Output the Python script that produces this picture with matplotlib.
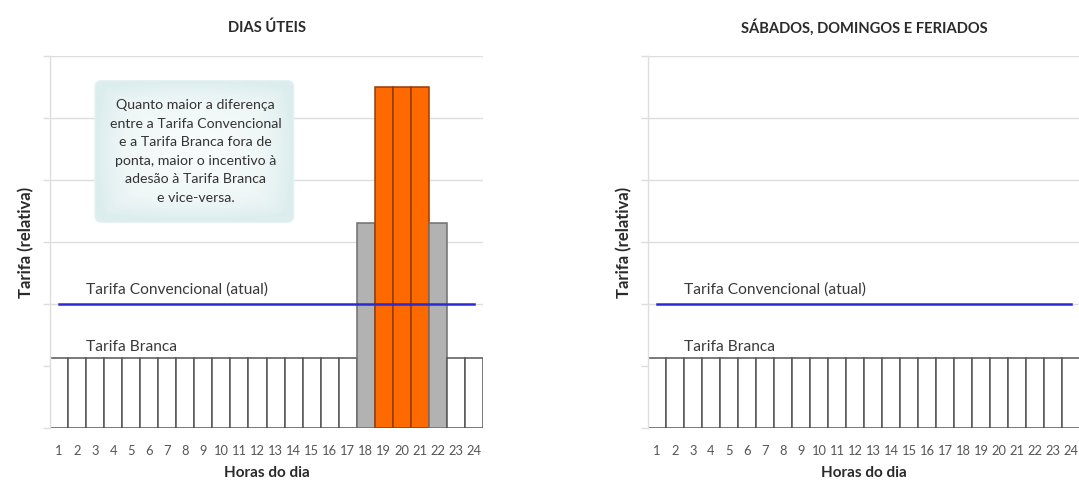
import matplotlib
matplotlib.use("Agg")
import matplotlib.pyplot as plt
import numpy as np
from matplotlib.patches import FancyBboxPatch
from matplotlib.colors import LinearSegmentedColormap

plt.rcParams['font.family'] = ['Lato', 'DejaVu Sans']

# Hours of the day and relative tariffs
hours = list(range(1, 25))
branca_weekday = [1.13] * 17 + [3.3] + [5.5] * 3 + [3.3] + [1.13] * 2
branca_weekend = [1.13] * 24
convencional = [2.0] * 24

# Bar colours per tariff band (fora de ponta / intermediário / ponta)
band_weekday = ['fora'] * 17 + ['inter'] + ['ponta'] * 3 + ['inter'] + ['fora'] * 2
band_weekend = ['fora'] * 24
face = {'fora': 'white', 'inter': '#b2b2b2', 'ponta': '#ff6a00'}
edge = {'fora': '#555555', 'inter': '#6f6f6f', 'ponta': '#9a3a05'}

titles = ['DIAS ÚTEIS', 'SÁBADOS, DOMINGOS E FERIADOS']
label_conv = 'Tarifa Convencional (atual)'
label_branca = 'Tarifa Branca'
note = ('Quanto maior a diferença\nentre a Tarifa Convencional\ne a Tarifa Branca fora de\n'
        'ponta, maior o incentivo à\nadesão à Tarifa Branca\ne vice-versa.')

W, H = 1079, 480
fig = plt.figure(figsize=(W / 100, H / 100), dpi=100)
fig.patch.set_facecolor('white')

def px_axes(x0, x1, y0, y1):
    return fig.add_axes([x0 / W, 1 - y1 / H, (x1 - x0) / W, (y1 - y0) / H])

ax_left = px_axes(50, 483, 56, 428)
ax_right = px_axes(648, 1080, 56, 428)

grid_c = '#dedede'
text_c = '#3a3a3a'

for ax, vals, bands, title in [(ax_left, branca_weekday, band_weekday, titles[0]),
                               (ax_right, branca_weekend, band_weekend, titles[1])]:
    ax.set_xlim(0.5, 24.5)
    ax.set_ylim(0, 6)
    ax.set_yticks(range(0, 7))
    ax.set_yticklabels([])
    ax.tick_params(axis='y', length=5, color=grid_c, width=1)
    ax.set_xticks(hours)
    ax.set_xticklabels([str(h) for h in hours], fontsize=9.3, color='#555555')
    ax.tick_params(axis='x', length=0, pad=12)
    ax.grid(axis='y', color=grid_c, linewidth=1)
    ax.set_axisbelow(True)
    for s in ['top', 'right', 'bottom']:
        ax.spines[s].set_visible(False)
    ax.spines['left'].set_color(grid_c)
    ax.spines['left'].set_linewidth(1)

    ax.bar(hours, vals, width=1.0,
           color=[face[b] for b in bands],
           edgecolor=[edge[b] for b in bands], linewidth=1.1, zorder=2)
    ax.plot(hours, convencional, color='#2a2ad6', linewidth=1.8, zorder=3)

    ax.text(2.5, 2.17, label_conv, fontsize=11.2, color=text_c, va='baseline', ha='left')
    ax.text(2.5, 1.24, label_branca, fontsize=11.2, color=text_c, va='baseline', ha='left')

    ax.set_title(title, fontsize=10.6, fontweight='bold', color='#2a2a2a', pad=17)
    ax.set_xlabel('Horas do dia', fontsize=11, fontweight='bold', color='#2a2a2a', labelpad=7)
    ax.set_ylabel('Tarifa (relativa)', fontsize=12, fontweight='bold', color='#2a2a2a', labelpad=3)

# Explanatory note on the weekday panel, with a soft radial fill
bx0, by0, bw, bh = 3.0, 3.32, 11.0, 2.28
box = FancyBboxPatch((bx0, by0), bw, bh, boxstyle='round,pad=0,rounding_size=0.35',
                     transform=ax_left.transData, facecolor='none',
                     edgecolor='#e3f0f0', linewidth=1.0, zorder=4,
                     mutation_aspect=0.3)
ax_left.add_patch(box)
gx, gy = np.meshgrid(np.linspace(-1, 1, 200), np.linspace(-1, 1, 80))
r = np.clip(np.maximum(np.abs(gx) ** 3, np.abs(gy) ** 3) * 0.6 + np.hypot(gx, gy) * 0.4, 0, 1)
cmap = LinearSegmentedColormap.from_list('note', ['#f8fcfc', '#eef6f6', '#dcedee'])
img = ax_left.imshow(r, extent=(bx0, bx0 + bw, by0, by0 + bh), cmap=cmap,
                     aspect='auto', zorder=3.9, interpolation='bilinear')
img.set_clip_path(box)
ax_left.set_xlim(0.5, 24.5)
ax_left.set_ylim(0, 6)
ax_left.text(8.56, 4.46, note, fontsize=10.2, color='#333333', ha='center', va='center',
             linespacing=1.65, zorder=5)

fig.savefig('out.png', dpi=100, facecolor='white')
